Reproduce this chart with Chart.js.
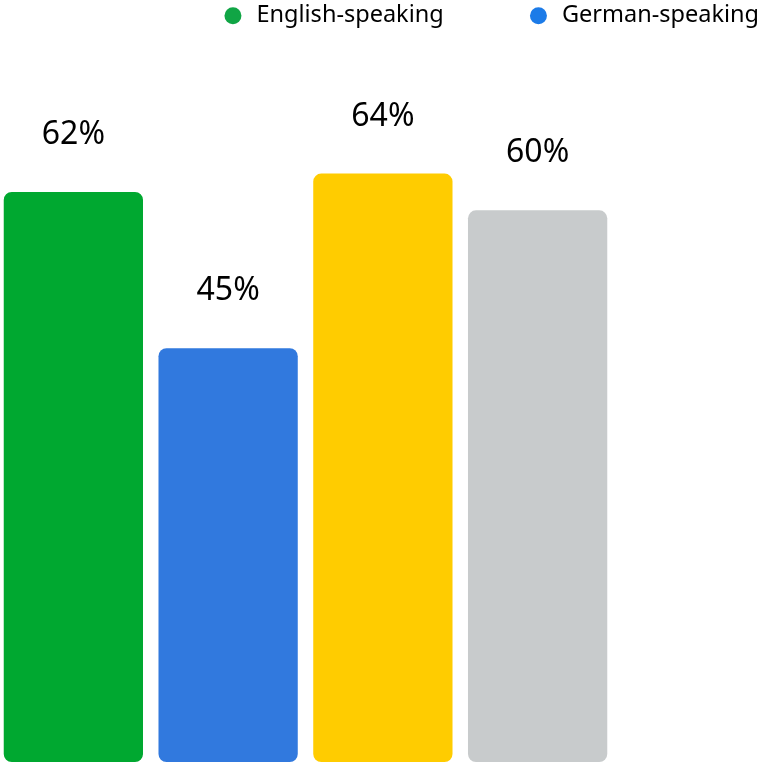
<!DOCTYPE html>
<html>
<head>
<meta charset="utf-8">
<script src="https://cdn.jsdelivr.net/npm/chart.js@4/dist/chart.umd.min.js"></script>
<style>
  body { margin: 0; background: #fff; overflow: hidden; }
  #wrap { width: 760px; height: 764px; overflow: hidden; }
  #bars { margin-left: -4px; display: block; }
</style>
</head>
<body>
<div id="wrap"><canvas id="bars" width="764" height="764"></canvas></div>
<script>
const categories = ["Group 1", "Group 2", "Group 3", "Group 4"];
const values = [62, 45, 64, 60];
const barColors = ["#00a830", "#3179de", "#ffcc00", "#c8cbcc"];
const legendLabels = ["English-speaking", "German-speaking"];
const legendColors = ["#10a545", "#1c7be8"];

Chart.defaults.font.family = "'Noto Sans', sans-serif";

// value labels above each bar
const valueLabels = {
  id: "valueLabels",
  afterDatasetsDraw(chart) {
    const ctx = chart.ctx;
    const meta = chart.getDatasetMeta(0);
    ctx.save();
    ctx.font = "32px 'Noto Sans', sans-serif";
    ctx.fillStyle = "#000";
    ctx.textAlign = "center";
    ctx.textBaseline = "alphabetic";
    meta.data.forEach(function (bar, i) {
      ctx.fillText(values[i] + "%", bar.x, bar.y - 48);
    });
    ctx.restore();
  }
};

new Chart(document.getElementById("bars"), {
  type: "bar",
  data: {
    labels: categories,
    datasets: [
      {
        data: values,
        backgroundColor: barColors,
        borderRadius: 8,
        borderSkipped: false,
        barPercentage: 0.9,
        categoryPercentage: 1
      }
    ]
  },
  options: {
    responsive: false,
    animation: false,
    layout: {
      padding: { left: 0, right: -82, top: -79, bottom: 2 }
    },
    scales: {
      x: { display: false },
      y: {
        position: "right",
        min: 0,
        max: 78.8,
        grid: { display: false },
        border: { display: false },
        ticks: { display: false },
        afterFit: function (scale) {
          scale.width = 227;
        }
      }
    },
    plugins: {
      tooltip: { enabled: false },
      legend: {
        position: "top",
        align: "end",
        labels: {
          usePointStyle: true,
          boxHeight: 12,
          padding: 83,
          color: "#333",
          font: { size: 23.5 },
          generateLabels: function () {
            return legendLabels.map(function (text, i) {
              return {
                text: text,
                fillStyle: legendColors[i],
                strokeStyle: legendColors[i],
                lineWidth: 0,
                pointStyle: "circle",
                hidden: false,
                datasetIndex: 0
              };
            });
          }
        }
      }
    }
  },
  plugins: [valueLabels]
});
</script>
</body>
</html>
